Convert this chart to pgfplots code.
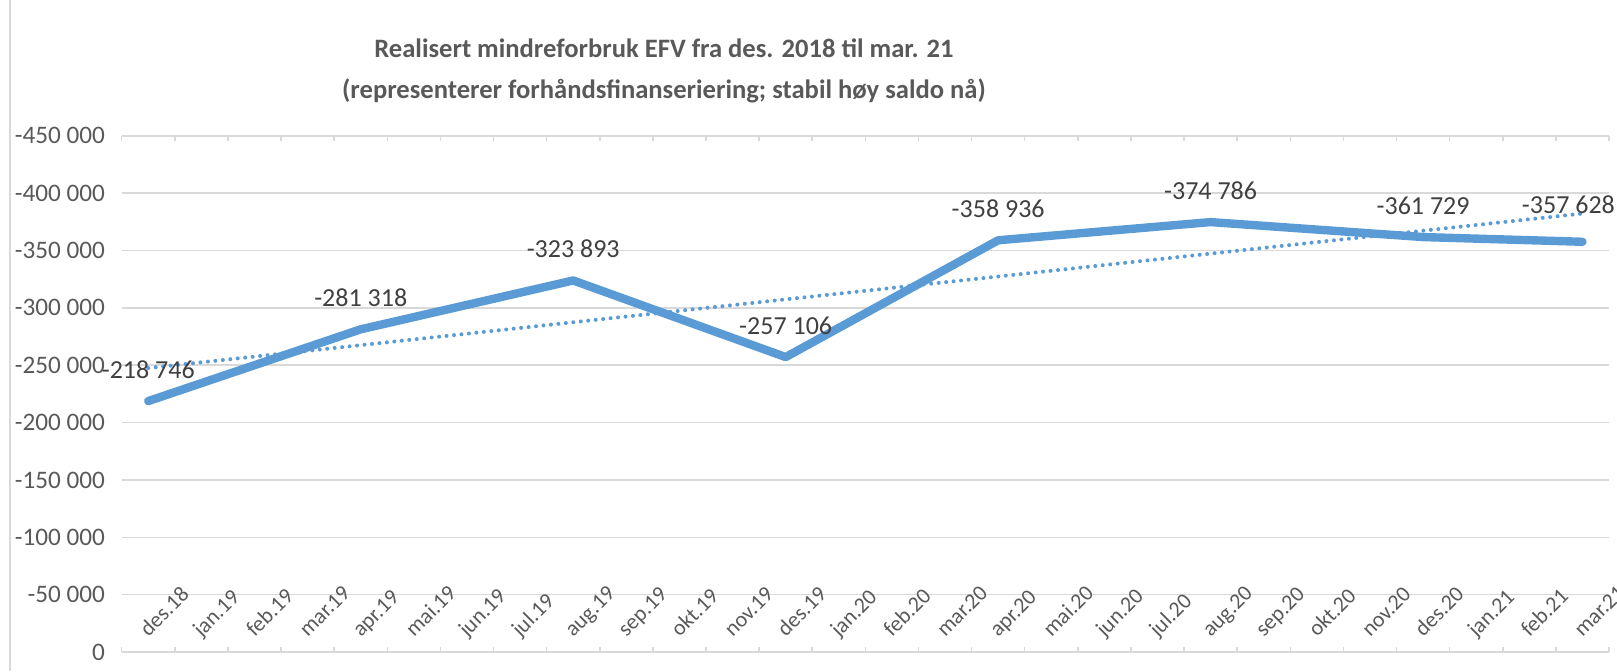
\documentclass[border=0pt]{standalone}
\usepackage{fontspec}
\setmainfont{Carlito}
\usepackage{pgfplots}
\usepackage{pgfplotstable}
\pgfplotsset{compat=1.18}
\definecolor{lineblue}{HTML}{5B9BD5}
\definecolor{gridgray}{HTML}{D9D9D9}
\definecolor{ticktext}{HTML}{595959}
\definecolor{labeltext}{HTML}{404040}
\pgfplotstableread{
x y lab
0 -218746 {-218 746}
4 -281318 {-281 318}
8 -323893 {-323 893}
12 -257106 {-257 106}
16 -358936 {-358 936}
20 -374786 {-374 786}
24 -361729 {-361 729}
27 -357628 {-357 628}
}\datatable
\begin{document}
\begin{tikzpicture}[x=1pt,y=1pt]
\path[use as bounding box] (-60.85,-9.5) rectangle (747.65,326);
\clip (-60.85,-9.5) rectangle (747.65,326);
\draw[gridgray, line width=1pt] (-55.6,-9.5) -- (-55.6,326);
\node[align=center, text=ticktext, font=\bfseries\fontsize{13.3}{20.6}\selectfont] at (271.15,290.4)
  {Realisert mindreforbruk EFV fra des. 2018 til mar. 21\\(representerer forhåndsfinanseriering;  stabil høy saldo nå)};
\begin{axis}[
  at={(0,0)}, anchor=south west, scale only axis,
  width=743.65pt, height=258.1pt,
  xmin=-0.5, xmax=27.5,
  ymin=-450000, ymax=0,
  y dir=reverse,
  scaled y ticks=false,
  axis line style={draw=none},
  ytick={-450000,-400000,-350000,-300000,-250000,-200000,-150000,-100000,-50000,0},
  yticklabels={-450 000,-400 000,-350 000,-300 000,-250 000,-200 000,-150 000,-100 000,-50 000,0},
  ymajorgrids,
  major grid style={gridgray, line width=0.75pt},
  major y tick style={draw=none},
  xtick={0,...,27},
  xticklabels={des.18,jan.19,feb.19,mar.19,apr.19,mai.19,jun.19,jul.19,aug.19,sep.19,okt.19,nov.19,des.19,jan.20,feb.20,mar.20,apr.20,mai.20,jun.20,jul.20,aug.20,sep.20,okt.20,nov.20,des.20,jan.21,feb.21,mar.21},
  major x tick style={draw=none},
  minor xtick={-0.5,0.5,...,27.5},
  minor x tick style={gridgray, line width=0.75pt},
  minor tick length=2.5pt,
  tick align=inside,
  xticklabel shift=-7pt,
  xticklabel style={rotate=45, anchor=base west, inner sep=0pt, font=\fontsize{11}{13}\selectfont, text=ticktext},
  yticklabel style={anchor=east, inner sep=0pt, xshift=-8.15pt, font=\fontsize{12.6}{15}\selectfont, text=ticktext},
  clip=false,
]
\addplot[lineblue, line width=4.2pt, line join=round, line cap=round,
  nodes near coords, point meta=explicit symbolic,
  every node near coord/.append style={anchor=base, yshift=11.25pt, font=\fontsize{13}{15}\selectfont, text=labeltext},
  coordinate style/.condition={x>26}{xshift=-7pt, yshift=3pt}]
  table[x=x, y=y, meta=lab] {\datatable};
\addplot[lineblue, line width=2pt, line cap=round, dash pattern=on 0pt off 3.75pt]
  coordinates {(0,-247562) (27,-382233)};
\end{axis}
\end{tikzpicture}
\end{document}
